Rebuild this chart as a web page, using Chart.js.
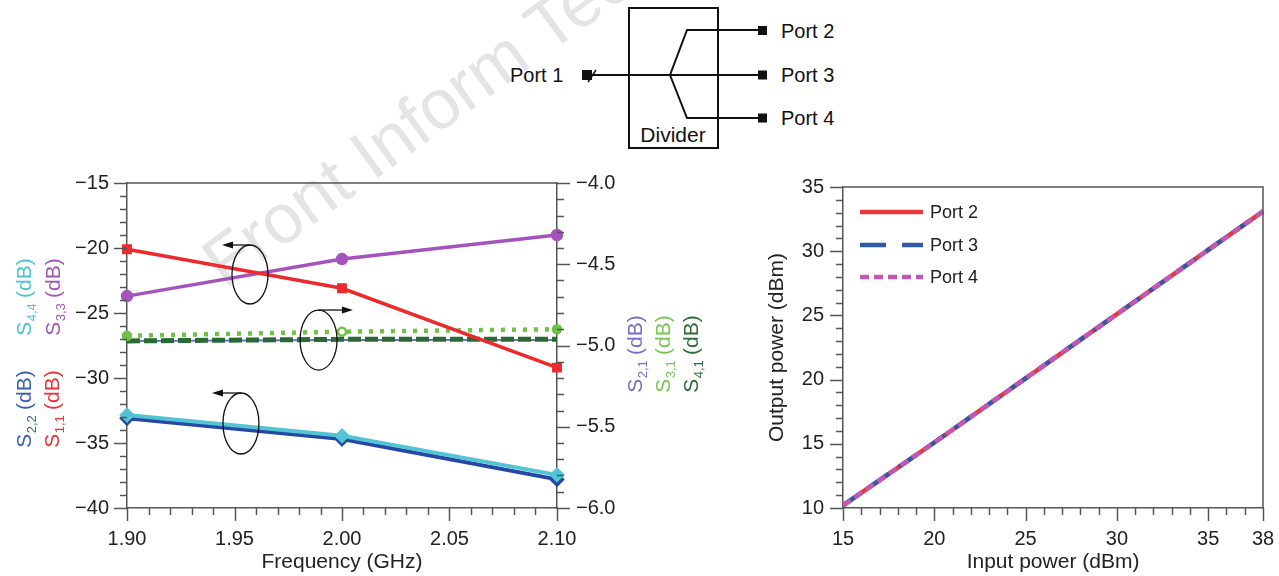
<!DOCTYPE html>
<html>
<head>
<meta charset="utf-8">
<script src="https://cdn.jsdelivr.net/npm/chart.js@4.4.1/dist/chart.umd.min.js"></script>
<style>
html, body { margin: 0; padding: 0; background: #fff; }
#page { position: relative; width: 1279px; height: 576px; overflow: hidden; font-family: 'Liberation Sans', Arial, sans-serif; }
#wm { position: absolute; left: 225px; top: 230px; font-size: 70px; line-height: 70px; color: #e4e4e4; white-space: nowrap; transform-origin: 0 59px; transform: rotate(-36deg); }
#diagram { position: absolute; left: 500px; top: 0; }
#leftWrap { position: absolute; left: 0; top: 160px; width: 720px; height: 416px; }
#rightWrap { position: absolute; left: 720px; top: 160px; width: 559px; height: 416px; }
</style>
</head>
<body>
<div id="page">
  <div id="wm">Front Inform Technol Electron Eng</div>

  <svg id="diagram" width="360" height="160" xmlns="http://www.w3.org/2000/svg" font-family="'Liberation Sans', Arial, sans-serif">
    <rect x="129" y="8" width="89" height="140" fill="none" stroke="#111" stroke-width="2"/>
    <text x="10" y="82" font-size="20" fill="#111">Port 1</text>
    <rect x="82" y="70" width="10" height="10" fill="#111"/>
    <line x1="88" y1="82" x2="96" y2="70" stroke="#111" stroke-width="1.5"/>
    <polyline points="92,75 258,75" fill="none" stroke="#111" stroke-width="2"/>
    <polyline points="170,75 187,30 258,30" fill="none" stroke="#111" stroke-width="2"/>
    <polyline points="170,75 187,118 258,118" fill="none" stroke="#111" stroke-width="2"/>
    <rect x="258" y="26" width="9" height="9" fill="#111"/>
    <rect x="258" y="70.5" width="9" height="9" fill="#111"/>
    <rect x="258" y="113.5" width="9" height="9" fill="#111"/>
    <text x="281" y="38" font-size="20" fill="#111">Port 2</text>
    <text x="281" y="82" font-size="20" fill="#111">Port 3</text>
    <text x="281" y="125" font-size="20" fill="#111">Port 4</text>
    <text x="173" y="142" font-size="21" fill="#111" text-anchor="middle">Divider</text>
  </svg>

  <div id="leftWrap"><canvas id="sparam" width="720" height="416"></canvas></div>
  <div id="rightWrap"><canvas id="power" width="559" height="416"></canvas></div>
</div>

<script>
// S-parameters vs frequency (left plot)
const freqGHz = [1.90, 2.00, 2.10];
const s11 = [-20.1, -23.1, -29.2];
const s33 = [-23.7, -20.85, -19.0];
const s22 = [-33.1, -34.7, -37.8];
const s44 = [-32.85, -34.45, -37.45];
const s21 = [-4.972, -4.966, -4.966];
const s31 = [-4.94, -4.915, -4.90];
const s41 = [-4.972, -4.962, -4.962];
const freqTicks = [1.90, 1.95, 2.00, 2.05, 2.10];
const reflTicks = [-40, -35, -30, -25, -20, -15];
const transTicks = [-6.0, -5.5, -5.0, -4.5, -4.0];

// output power vs input power (right plot)
const inputPower = [15, 20, 25, 30, 35, 38];
const port2Out = [10.2, 15.1, 20.1, 25.1, 30.1, 33.1];
const port3Out = [10.2, 15.1, 20.1, 25.1, 30.1, 33.1];
const port4Out = [10.2, 15.1, 20.1, 25.1, 30.1, 33.1];
const inputTicks = [15, 20, 25, 30, 35, 38];
const outputTicks = [10, 15, 20, 25, 30, 35];

const FONT = "'Liberation Sans', Arial, sans-serif";
const AXIS = '#555';
const MINUS = '\u2212';

Chart.defaults.font.family = FONT;
Chart.defaults.color = '#222';

function pts(xs, ys) {
    return xs.map((x, i) => ({ x: x, y: ys[i] }));
}

function fmt(v, digits) {
    const s = Math.abs(v).toFixed(digits);
    return v < 0 ? MINUS + s : s;
}

// major ticks come from the scale, minor ones every `minor` units
const tickMarks = {
    id: 'tickMarks',
    afterDraw(chart, args, opts) {
        const ctx = chart.ctx;
        ctx.save();
        ctx.strokeStyle = AXIS;
        ctx.lineWidth = 1.5;
        opts.axes.forEach(a => {
            const s = chart.scales[a.id];
            const n = Math.round((s.max - s.min) / a.minor);
            for (let i = 0; i <= n; i++) {
                const v = s.min + i * a.minor;
                const major = s.ticks.some(t => Math.abs(t.value - v) < a.minor / 10);
                const len = major ? 13 : 7;
                const p = Math.round(s.getPixelForValue(v)) + 0.5;
                ctx.beginPath();
                if (a.side === 'left') { ctx.moveTo(s.right, p); ctx.lineTo(s.right - len, p); }
                if (a.side === 'right') { ctx.moveTo(s.left, p); ctx.lineTo(s.left + len, p); }
                if (a.side === 'bottom') { ctx.moveTo(p, s.top); ctx.lineTo(p, s.top + len); }
                ctx.stroke();
            }
        });
        ctx.restore();
    }
};

const frame = {
    id: 'frame',
    afterDraw(chart, args, opts) {
        const { ctx, chartArea: a } = chart;
        ctx.save();
        ctx.strokeStyle = AXIS;
        ctx.lineWidth = 1.5;
        ctx.beginPath();
        ctx.moveTo(a.left, a.top);
        ctx.lineTo(a.right, a.top);
        if (opts.right) ctx.lineTo(a.right, a.bottom);
        ctx.stroke();
        ctx.restore();
    }
};

// ellipses with arrows telling which axis a group of curves belongs to
const loops = {
    id: 'loops',
    afterDatasetsDraw(chart, args, opts) {
        const ctx = chart.ctx;
        const xs = chart.scales.x;
        ctx.save();
        ctx.strokeStyle = '#111';
        ctx.fillStyle = '#111';
        ctx.lineWidth = 1.3;
        opts.items.forEach(it => {
            const ys = chart.scales[it.axis];
            const cx = xs.getPixelForValue(it.x);
            const cy = ys.getPixelForValue(it.y);
            ctx.beginPath();
            ctx.ellipse(cx, cy, it.rx, it.ry, 0, 0, 2 * Math.PI);
            ctx.stroke();
            const top = cy - it.ry;
            const tip = xs.getPixelForValue(it.tip);
            const dir = Math.sign(tip - cx);
            ctx.beginPath();
            ctx.moveTo(cx, top);
            ctx.lineTo(tip - dir * 6, top);
            ctx.stroke();
            ctx.beginPath();
            ctx.moveTo(tip, top);
            ctx.lineTo(tip - dir * 11, top - 3.5);
            ctx.lineTo(tip - dir * 11, top + 3.5);
            ctx.closePath();
            ctx.fill();
        });
        ctx.restore();
    }
};

// rotated, coloured axis labels with subscripts
const sLabels = {
    id: 'sLabels',
    afterDraw(chart, args, opts) {
        const ctx = chart.ctx;
        const big = '21px ' + FONT, small = '13px ' + FONT;
        opts.items.forEach(it => {
            ctx.save();
            ctx.translate(it.x, it.y);
            ctx.rotate(-Math.PI / 2);
            ctx.fillStyle = it.color;
            ctx.textBaseline = 'middle';
            ctx.textAlign = 'left';
            ctx.font = big;
            const wS = ctx.measureText('S').width;
            const wT = ctx.measureText(' (dB)').width;
            ctx.font = small;
            const wSub = ctx.measureText(it.sub).width;
            const x0 = -(wS + wSub + wT) / 2;
            ctx.font = big;
            ctx.fillText('S', x0, 0);
            ctx.font = small;
            ctx.fillText(it.sub, x0 + wS + 0.5, 7);
            ctx.font = big;
            ctx.fillText(' (dB)', x0 + wS + wSub, 0);
            ctx.restore();
        });
    }
};

const lineLegend = {
    id: 'lineLegend',
    afterDraw(chart, args, opts) {
        const { ctx, chartArea: a } = chart;
        ctx.save();
        ctx.font = '18px ' + FONT;
        ctx.textBaseline = 'middle';
        ctx.fillStyle = '#222';
        chart.data.datasets.forEach((ds, i) => {
            const y = a.top + opts.rows[i];
            ctx.strokeStyle = ds.borderColor;
            ctx.lineWidth = ds.borderWidth;
            ctx.setLineDash(opts.dashes[i]);
            ctx.beginPath();
            ctx.moveTo(a.left + opts.x0, y);
            ctx.lineTo(a.left + opts.x1, y);
            ctx.stroke();
            ctx.fillText(ds.label, a.left + opts.textX, y + 1);
        });
        ctx.restore();
    }
};

function axisTicks(values) {
    return s => { s.ticks = values.map(v => ({ value: v })); };
}

// fixed axis box size, no extra room for overhanging labels
function fixSize(prop, size) {
    return s => {
        s[prop] = size;
        s.paddingTop = 0;
        s.paddingBottom = 0;
        s.paddingLeft = 0;
        s.paddingRight = 0;
    };
}

const tickFont = { size: 20 };
const titleFont = { size: 21 };

new Chart(document.getElementById('sparam'), {
    type: 'line',
    data: {
        datasets: [
            { label: 'S1,1', data: pts(freqGHz, s11), yAxisID: 'y', borderColor: '#ec2a2e', backgroundColor: '#ec2a2e', borderWidth: 3.5, pointStyle: 'rect', pointRadius: 4.5, order: 3 },
            { label: 'S3,3', data: pts(freqGHz, s33), yAxisID: 'y', borderColor: '#a453bc', backgroundColor: '#a453bc', borderWidth: 3.5, pointStyle: 'circle', pointRadius: 4.5, order: 4 },
            { label: 'S2,2', data: pts(freqGHz, s22), yAxisID: 'y', borderColor: '#2747a6', backgroundColor: '#2747a6', borderWidth: 4, pointStyle: 'rectRot', pointRadius: 5, order: 2 },
            { label: 'S4,4', data: pts(freqGHz, s44), yAxisID: 'y', borderColor: '#52c4d3', backgroundColor: '#52c4d3', borderWidth: 4, pointStyle: 'rectRot', pointRadius: 5, order: 1 },
            { label: 'S2,1', data: pts(freqGHz, s21), yAxisID: 'y2', borderColor: '#6f6fd0', backgroundColor: '#6f6fd0', borderWidth: 2, pointRadius: 0, order: 7 },
            { label: 'S3,1', data: pts(freqGHz, s31), yAxisID: 'y2', borderColor: '#6dc247', backgroundColor: '#6dc247', pointBackgroundColor: ['#6dc247', '#ffffff', '#6dc247'], pointBorderWidth: 2.5, borderWidth: 4.5, borderDash: [4, 7], pointStyle: 'circle', pointRadius: 4, order: 5 },
            { label: 'S4,1', data: pts(freqGHz, s41), yAxisID: 'y2', borderColor: '#2a6a36', backgroundColor: '#2a6a36', borderWidth: 5, borderDash: [13, 4], pointRadius: 0, order: 6 }
        ]
    },
    plugins: [tickMarks, frame, loops, sLabels],
    options: {
        responsive: false,
        animation: false,
        devicePixelRatio: 1,
        clip: false,
        layout: { autoPadding: false, padding: { top: 23, left: 0, right: 0, bottom: 0 } },
        elements: { line: { tension: 0 }, point: { hoverRadius: 5 } },
        plugins: {
            legend: { display: false },
            tooltip: { enabled: false },
            tickMarks: {
                axes: [
                    { id: 'x', minor: 0.01, side: 'bottom' },
                    { id: 'y', minor: 1, side: 'left' },
                    { id: 'y2', minor: 0.1, side: 'right' }
                ]
            },
            frame: { right: false },
            loops: {
                items: [
                    { axis: 'y', x: 1.9572, y: -22.04, rx: 18, ry: 29.5, tip: 1.9442 },
                    { axis: 'y', x: 1.9891, y: -27.08, rx: 18.5, ry: 30, tip: 2.0051 },
                    { axis: 'y', x: 1.9530, y: -33.50, rx: 18, ry: 30.5, tip: 1.9395 }
                ]
            },
            sLabels: {
                items: [
                    { x: 25, y: 137, sub: '4,4', color: '#4cc3cf' },
                    { x: 54, y: 137, sub: '3,3', color: '#a257b8' },
                    { x: 25, y: 249, sub: '2,2', color: '#3a5fb0' },
                    { x: 53, y: 249, sub: '1,1', color: '#e8333a' },
                    { x: 636, y: 194, sub: '2,1', color: '#7470c4' },
                    { x: 664, y: 194, sub: '3,1', color: '#7ac456' },
                    { x: 692, y: 194, sub: '4,1', color: '#2e6b3a' }
                ]
            }
        },
        scales: {
            x: {
                type: 'linear',
                min: 1.9,
                max: 2.1,
                afterBuildTicks: axisTicks(freqTicks),
                afterFit: fixSize('height', 68),
                grid: { display: false, drawTicks: false },
                border: { display: true, color: AXIS, width: 1.5 },
                ticks: { padding: 19, font: tickFont, color: '#222', maxRotation: 0, callback: v => v.toFixed(2) },
                title: { display: true, text: 'Frequency (GHz)', font: titleFont, color: '#222', padding: { top: 0, bottom: 1 } }
            },
            y: {
                type: 'linear',
                position: 'left',
                min: -40,
                max: -15,
                afterBuildTicks: axisTicks(reflTicks),
                afterFit: fixSize('width', 127),
                grid: { display: false, drawTicks: false },
                border: { display: true, color: AXIS, width: 1.5 },
                ticks: { padding: 18, font: tickFont, color: '#222', callback: v => fmt(v, 0) }
            },
            y2: {
                type: 'linear',
                position: 'right',
                min: -6,
                max: -4,
                afterBuildTicks: axisTicks(transTicks),
                afterFit: fixSize('width', 163),
                grid: { display: false, drawTicks: false },
                border: { display: true, color: AXIS, width: 1.5 },
                ticks: { padding: 19, font: tickFont, color: '#222', callback: v => fmt(v, 1) }
            }
        }
    }
});

new Chart(document.getElementById('power'), {
    type: 'line',
    data: {
        datasets: [
            { label: 'Port 2', data: pts(inputPower, port2Out), borderColor: '#e8383a', borderWidth: 4.5, pointRadius: 0, order: 3 },
            { label: 'Port 3', data: pts(inputPower, port3Out), borderColor: '#2f5aa8', borderWidth: 4.5, borderDash: [22, 12], pointRadius: 0, order: 2 },
            { label: 'Port 4', data: pts(inputPower, port4Out), borderColor: '#c257b6', borderWidth: 4.5, borderDash: [9, 5], pointRadius: 0, order: 1 }
        ]
    },
    plugins: [tickMarks, frame, lineLegend],
    options: {
        responsive: false,
        animation: false,
        devicePixelRatio: 1,
        clip: false,
        layout: { autoPadding: false, padding: { top: 27, right: 16, left: 0, bottom: 0 } },
        elements: { line: { tension: 0 } },
        plugins: {
            legend: { display: false },
            tooltip: { enabled: false },
            tickMarks: {
                axes: [
                    { id: 'x', minor: 1, side: 'bottom' },
                    { id: 'y', minor: 1, side: 'left' }
                ]
            },
            frame: { right: true },
            lineLegend: { x0: 17, x1: 80, textX: 87, rows: [25, 58, 90], dashes: [[], [26, 16], [9, 5]] }
        },
        scales: {
            x: {
                type: 'linear',
                min: 15,
                max: 38,
                afterBuildTicks: axisTicks(inputTicks),
                afterFit: fixSize('height', 68),
                grid: { display: false, drawTicks: false },
                border: { display: true, color: AXIS, width: 1.5 },
                ticks: { padding: 19, font: tickFont, color: '#222', maxRotation: 0, callback: v => String(v) },
                title: { display: true, text: 'Input power (dBm)', font: titleFont, color: '#222', padding: { top: 0, bottom: 1 } }
            },
            y: {
                type: 'linear',
                position: 'left',
                min: 10,
                max: 35,
                afterBuildTicks: axisTicks(outputTicks),
                afterFit: fixSize('width', 123),
                grid: { display: false, drawTicks: false },
                border: { display: true, color: AXIS, width: 1.5 },
                ticks: { padding: 19, font: tickFont, color: '#222', callback: v => String(v) },
                title: { display: true, text: 'Output power (dBm)', font: titleFont, color: '#222', padding: { top: 45, bottom: 0 } }
            }
        }
    }
});
</script>
</body>
</html>
